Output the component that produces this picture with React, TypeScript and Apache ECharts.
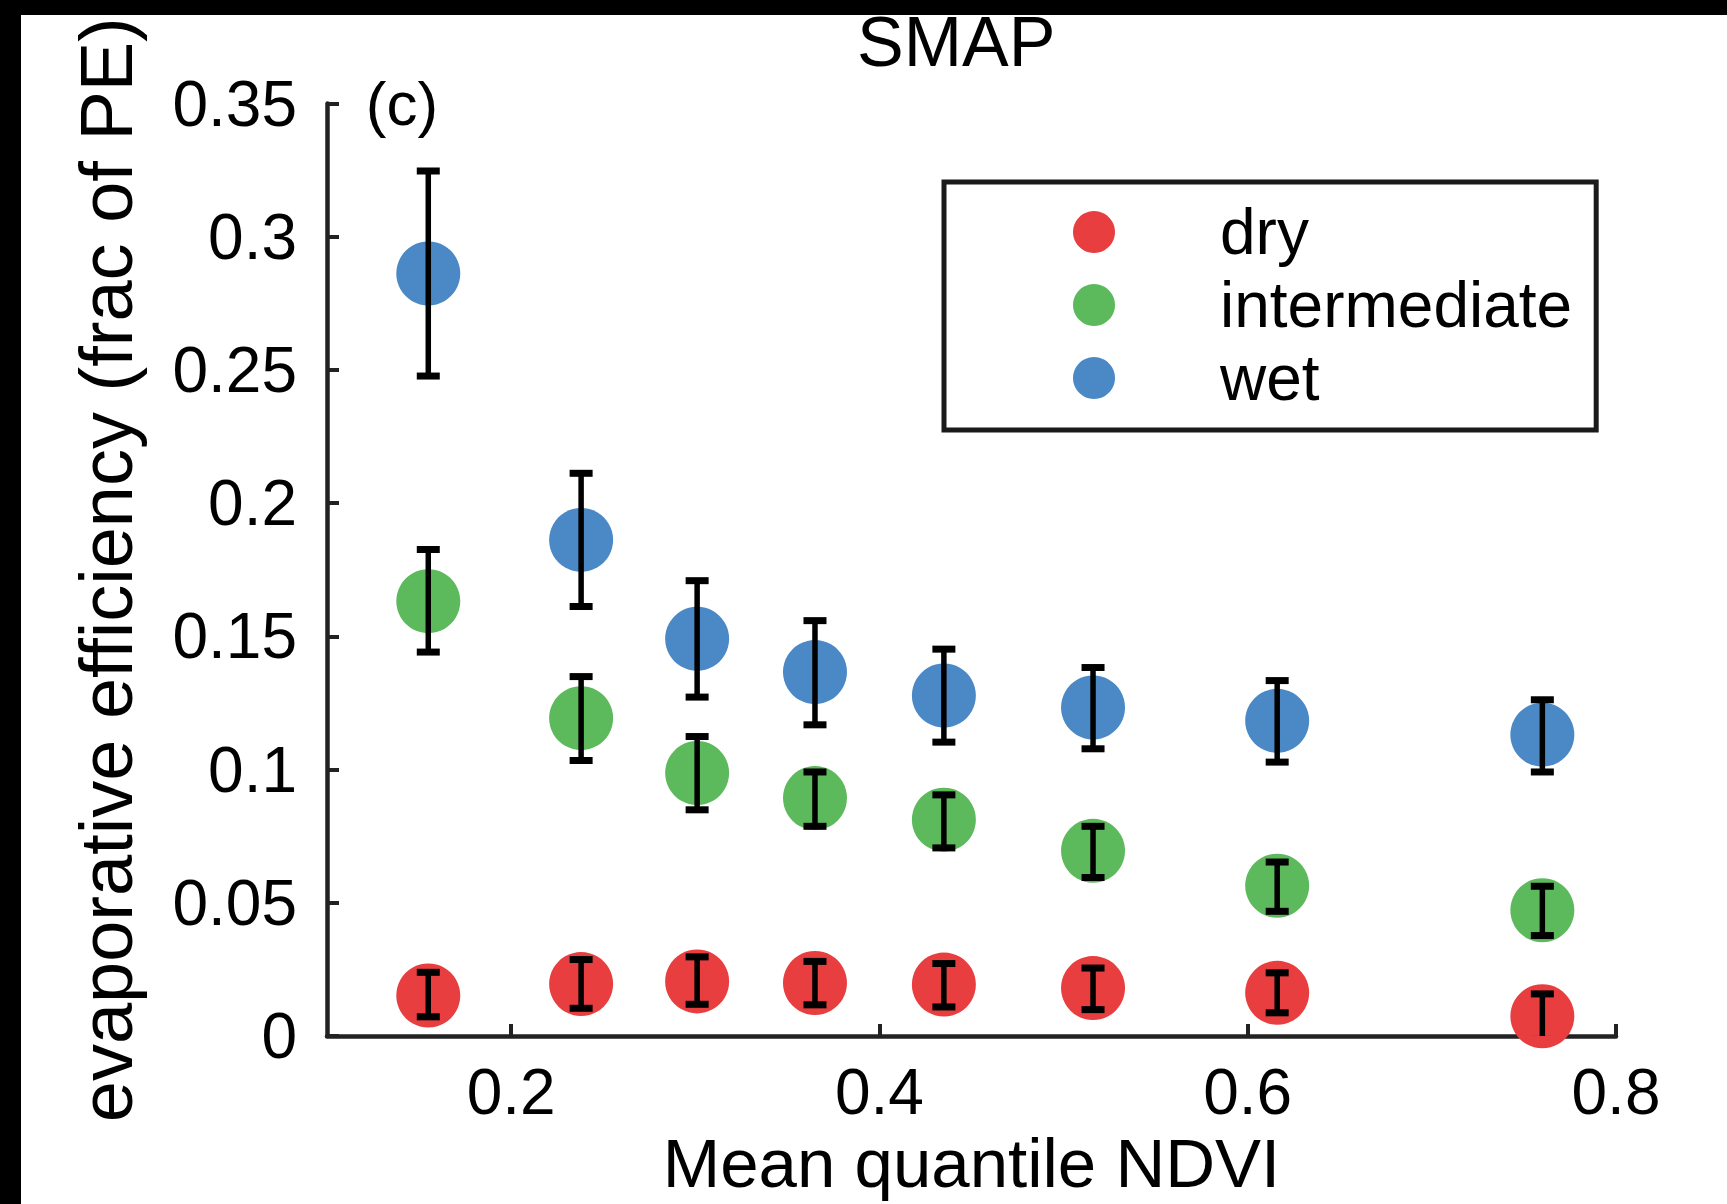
import React, { useEffect, useRef } from "react";
import * as echarts from "echarts";

const FONT = "'Liberation Sans', Arial, Helvetica, sans-serif";

const seriesNames = ["dry", "intermediate", "wet"];
const seriesColors = ["#E83E3F", "#5DBA5C", "#4A89C6"];

const ndvi = [0.155, 0.238, 0.301, 0.365, 0.435, 0.516, 0.616, 0.76];

const dryMean = [0.0152, 0.0195, 0.0205, 0.0199, 0.0193, 0.018, 0.0162, 0.0074];
const dryLow = [0.0072, 0.0104, 0.0119, 0.0117, 0.0109, 0.0099, 0.0087, -0.0013];
const dryHigh = [0.0239, 0.0287, 0.0297, 0.028, 0.0272, 0.0255, 0.0237, 0.0158];

const intMean = [0.1632, 0.1193, 0.0987, 0.0893, 0.0812, 0.0695, 0.0564, 0.0472];
const intLow = [0.1441, 0.1034, 0.0849, 0.0787, 0.0706, 0.0595, 0.0468, 0.0377];
const intHigh = [0.1826, 0.1349, 0.1124, 0.0991, 0.0905, 0.0787, 0.0653, 0.0562];

const wetMean = [0.2862, 0.1862, 0.1491, 0.1366, 0.1278, 0.1233, 0.1183, 0.1131];
const wetLow = [0.2477, 0.1612, 0.1272, 0.1168, 0.1103, 0.1078, 0.1028, 0.0991];
const wetHigh = [0.3247, 0.2112, 0.1709, 0.1559, 0.1452, 0.1383, 0.1334, 0.1262];

const xTicks = [0.2, 0.4, 0.6, 0.8];

const means = [dryMean, intMean, wetMean];
const lows = [dryLow, intLow, wetLow];
const highs = [dryHigh, intHigh, wetHigh];

export default function App() {
  const ref = useRef<HTMLDivElement>(null);

  useEffect(() => {
    if (!ref.current) return;
    const chart = echarts.init(ref.current, undefined, { renderer: "svg" });

    const scatterSeries = seriesNames.map((name, i) => ({
      name,
      type: "scatter",
      symbol: "circle",
      symbolSize: 64,
      itemStyle: { color: seriesColors[i], opacity: 1 },
      z: 3,
      data: ndvi.map((x, j) => [x, means[i][j]]),
    }));

    const errorSeries = seriesNames.map((name, i) => ({
      name: name + "-err",
      type: "custom",
      z: 5,
      clip: true,
      data: ndvi.map((x, j) => [x, lows[i][j], highs[i][j]]),
      renderItem: (params: any, api: any) => {
        const x = api.value(0);
        const pLo = api.coord([x, api.value(1)]);
        const pHi = api.coord([x, api.value(2)]);
        const cw = 11.5;
        const ch = 3.5;
        return {
          type: "group",
          children: [
            {
              type: "line",
              shape: { x1: pLo[0], y1: pLo[1], x2: pHi[0], y2: pHi[1] },
              style: { stroke: "#000", lineWidth: 5.5 },
            },
            {
              type: "rect",
              shape: { x: pHi[0] - cw, y: pHi[1] - ch, width: cw * 2, height: ch * 2 },
              style: { fill: "#000" },
            },
            {
              type: "rect",
              shape: { x: pLo[0] - cw, y: pLo[1] - ch, width: cw * 2, height: ch * 2 },
              style: { fill: "#000" },
            },
          ],
        };
      },
    }));

    chart.setOption({
      animation: false,
      backgroundColor: "#fff",
      textStyle: { fontFamily: FONT },
      title: {
        text: "SMAP",
        left: 857,
        top: 7,
        padding: 0,
        textStyle: { fontSize: 70, fontWeight: "normal", color: "#000", fontFamily: FONT },
      },
      grid: {
        left: 327,
        right: 111,
        top: 103.5,
        bottom: 168,
        containLabel: false,
        outerBoundsMode: "none",
      },
      legend: {
        data: seriesNames,
        orient: "vertical",
        left: 944,
        top: 182,
        padding: [18, 24, 20, 129],
        itemWidth: 242,
        itemHeight: 42,
        itemGap: 9,
        icon: "circle",
        borderColor: "#1a1a1a",
        borderWidth: 5,
        textStyle: { fontSize: 64, lineHeight: 64, color: "#000", fontFamily: FONT },
      },
      xAxis: {
        type: "value",
        min: 0.1,
        max: 0.8,
        name: "Mean quantile NDVI",
        nameLocation: "middle",
        nameGap: 66,
        nameTextStyle: { fontSize: 69, lineHeight: 69, color: "#000", fontFamily: FONT },
        splitLine: { show: false },
        axisLine: { show: true, onZero: false, lineStyle: { color: "#222", width: 4.5 } },
        axisTick: {
          show: true,
          inside: true,
          length: 12,
          customValues: xTicks,
          lineStyle: { color: "#222", width: 4 },
        },
        axisLabel: {
          show: true,
          customValues: xTicks,
          fontSize: 64,
          color: "#000",
          margin: 24,
          fontFamily: FONT,
        },
      },
      yAxis: {
        type: "value",
        min: 0,
        max: 0.35,
        interval: 0.05,
        name: "evaporative efficiency (frac of PE)",
        nameLocation: "middle",
        nameGap: 184,
        nameTextStyle: { fontSize: 74, color: "#000", fontFamily: FONT },
        splitLine: { show: false },
        axisLine: { show: true, onZero: false, lineStyle: { color: "#222", width: 4.5 } },
        axisTick: { show: true, inside: true, length: 12, lineStyle: { color: "#222", width: 4 } },
        axisLabel: { fontSize: 64, color: "#000", margin: 30, fontFamily: FONT },
      },
      graphic: [
        {
          type: "text",
          x: 402,
          y: 103,
          style: {
            text: "(c)",
            fontSize: 62,
            fontFamily: FONT,
            fill: "#000",
            textAlign: "center",
            textVerticalAlign: "middle",
          },
        },
        {
          type: "rect",
          z: 100,
          shape: { x: 0, y: 0, width: 1727, height: 15 },
          style: { fill: "#000" },
        },
        {
          type: "rect",
          z: 100,
          shape: { x: 0, y: 0, width: 21, height: 1204 },
          style: { fill: "#000" },
        },
      ],
      series: [...scatterSeries, ...errorSeries],
    });

    return () => chart.dispose();
  }, []);

  return (
    <div
      ref={ref}
      style={{ position: "absolute", left: 0, top: 0, width: 1727, height: 1204 }}
    />
  );
}
